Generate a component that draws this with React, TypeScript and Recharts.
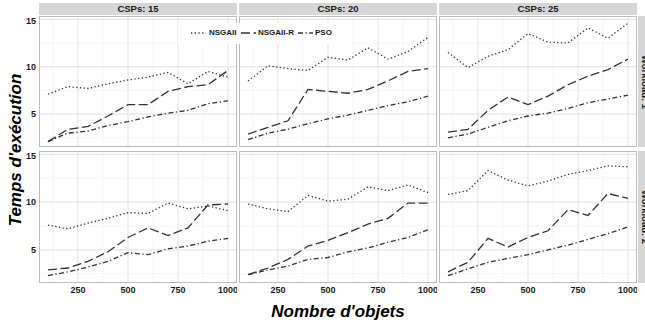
import { CartesianGrid, Line, LineChart, XAxis, YAxis } from "recharts";

const objets = [100, 200, 300, 400, 500, 600, 700, 800, 900, 1000];
const cspLabels = ["CSPs: 15", "CSPs: 20", "CSPs: 25"];
const workloadLabels = ["Workload: 1", "Workload: 2"];
const xTicks = [250, 500, 750, 1000];
const yTicks = [5, 10, 15];
const xMinor = [125, 375, 625, 875];
const yMinor = [2.5, 7.5, 12.5];

// Workload 1
const nsga_w1_15 = [7.1, 7.9, 7.7, 8.2, 8.6, 8.9, 9.4, 8.2, 9.5, 8.9];
const nsgar_w1_15 = [2.1, 3.4, 3.7, 4.8, 6.0, 6.0, 7.4, 7.9, 8.1, 9.6];
const pso_w1_15 = [2.1, 3.0, 3.2, 3.8, 4.2, 4.7, 5.1, 5.4, 6.1, 6.4];

const nsga_w1_20 = [8.5, 10.1, 9.8, 9.6, 11.0, 10.7, 12.0, 10.8, 11.6, 13.1];
const nsgar_w1_20 = [2.9, 3.6, 4.3, 7.6, 7.4, 7.2, 7.6, 8.5, 9.5, 9.8];
const pso_w1_20 = [2.3, 3.0, 3.4, 4.0, 4.5, 4.9, 5.4, 5.9, 6.3, 6.9];

const nsga_w1_25 = [11.5, 9.9, 11.1, 11.8, 13.5, 12.6, 12.5, 14.1, 13.0, 14.6];
const nsgar_w1_25 = [3.1, 3.4, 5.4, 6.8, 6.0, 6.9, 8.1, 9.0, 9.7, 10.8];
const pso_w1_25 = [2.5, 2.9, 3.6, 4.3, 4.8, 5.1, 5.6, 6.2, 6.6, 7.0];

// Workload 2
const nsga_w2_15 = [7.6, 7.2, 7.8, 8.3, 8.9, 8.8, 9.9, 9.3, 9.6, 9.1];
const nsgar_w2_15 = [2.9, 3.1, 3.8, 4.8, 6.3, 7.3, 6.5, 7.3, 9.7, 9.8];
const pso_w2_15 = [2.3, 2.7, 3.2, 3.8, 4.7, 4.5, 5.1, 5.4, 5.9, 6.2];

const nsga_w2_20 = [9.8, 9.3, 9.0, 10.7, 10.1, 10.3, 11.6, 11.2, 11.8, 11.0];
const nsgar_w2_20 = [2.4, 3.1, 4.0, 5.4, 6.0, 6.8, 7.7, 8.3, 9.9, 9.9];
const pso_w2_20 = [2.4, 2.9, 3.3, 4.0, 4.2, 4.8, 5.2, 5.8, 6.3, 7.1];

const nsga_w2_25 = [10.8, 11.2, 13.3, 12.3, 11.7, 12.2, 12.9, 13.3, 13.8, 13.7];
const nsgar_w2_25 = [2.7, 3.7, 6.2, 5.3, 6.3, 7.0, 9.2, 8.6, 10.9, 10.4];
const pso_w2_25 = [2.3, 3.0, 3.7, 4.1, 4.5, 5.0, 5.5, 6.1, 6.7, 7.4];

const series = [
  [
    [nsga_w1_15, nsgar_w1_15, pso_w1_15],
    [nsga_w1_20, nsgar_w1_20, pso_w1_20],
    [nsga_w1_25, nsgar_w1_25, pso_w1_25],
  ],
  [
    [nsga_w2_15, nsgar_w2_15, pso_w2_15],
    [nsga_w2_20, nsgar_w2_20, pso_w2_20],
    [nsga_w2_25, nsgar_w2_25, pso_w2_25],
  ],
];

const FONT = "'Liberation Sans', Arial, sans-serif";
const INK = "#333333";
const PL = [39, 239, 439];
const PT = [16, 151];
const PH = [131, 132];
const PW = 198;
const Y_AXIS_W = 39;
const X_AXIS_H = 20;

const lineStyles = [
  { key: "NSGAII", dash: "1.3 2.4" },
  { key: "NSGAII-R", dash: "9 3.5" },
  { key: "PSO", dash: "5 2.5 1.3 2.5" },
];

function Panel({ r, c }: { r: number; c: number }) {
  const left = c === 0;
  const bottom = r === 1;
  const [a, b, p] = series[r][c];
  const data = objets.map((x, i) => ({ x, NSGAII: a[i], "NSGAII-R": b[i], PSO: p[i] }));
  const tick = { fontSize: 9, fontWeight: 700, fill: "#1a1a1a", fontFamily: FONT };
  return (
    <div style={{ position: "absolute", left: left ? 0 : PL[c], top: PT[r] }}>
      <LineChart
        width={(left ? Y_AXIS_W : 0) + PW}
        height={PH[r] + (bottom ? X_AXIS_H : 0)}
        data={data}
        margin={{ top: 0, right: 0, bottom: 0, left: 0 }}
      >
        <CartesianGrid
          horizontalValues={yMinor}
          verticalValues={xMinor}
          stroke="#e4e4e4"
          strokeWidth={0.8}
          strokeDasharray="1 1.5"
        />
        <CartesianGrid horizontalValues={yTicks} verticalValues={xTicks} stroke="#e6e6e6" strokeWidth={1.2} />
        <XAxis
          type="number"
          dataKey="x"
          domain={[55, 1045]}
          ticks={xTicks}
          hide={!bottom}
          height={X_AXIS_H}
          axisLine={false}
          tickLine={false}
          tickSize={2}
          tickMargin={2}
          tick={tick}
          allowDataOverflow
        />
        <YAxis
          type="number"
          domain={[1.53, 15.35]}
          ticks={yTicks}
          hide={!left}
          width={Y_AXIS_W}
          axisLine={false}
          tickLine={false}
          tickSize={2}
          tickMargin={1}
          tick={tick}
          allowDataOverflow
        />
        {lineStyles.map((s) => (
          <Line
            key={s.key}
            dataKey={s.key}
            type="linear"
            stroke={INK}
            strokeWidth={1.3}
            strokeDasharray={s.dash}
            dot={false}
            activeDot={false}
            isAnimationActive={false}
          />
        ))}
      </LineChart>
    </div>
  );
}

function LegendBox() {
  const items = [
    { key: "NSGAII", dash: lineStyles[0].dash, kx: 191, tx: 209 },
    { key: "NSGAII-R", dash: lineStyles[1].dash, kx: 241, tx: 258 },
    { key: "PSO", dash: lineStyles[2].dash, kx: 298, tx: 315 },
  ];
  return (
    <div style={{ position: "absolute", left: 178, top: 23, width: 170, height: 21, background: "#fff" }}>
      {items.map((it) => (
        <div key={it.key}>
          <svg width={15} height={4} style={{ position: "absolute", left: it.kx - 178, top: 8 }}>
            <line x1={0} y1={2} x2={15} y2={2} stroke={INK} strokeWidth={1.3} strokeDasharray={it.dash} />
          </svg>
          <span
            style={{
              position: "absolute",
              left: it.tx - 178,
              top: 4,
              fontFamily: FONT,
              fontWeight: 700,
              fontSize: 8,
              lineHeight: "12px",
              color: "#1a1a1a",
              whiteSpace: "nowrap",
            }}
          >
            {it.key}
          </span>
        </div>
      ))}
    </div>
  );
}

export default function App() {
  return (
    <div
      style={{
        position: "absolute",
        left: 0,
        top: 0,
        width: 645,
        height: 323,
        overflow: "hidden",
        background: "#fff",
        fontFamily: FONT,
      }}
    >
      {[0, 1].map((r) => [0, 1, 2].map((c) => <Panel key={`${r}-${c}`} r={r} c={c} />))}
      {[0, 1].map((r) =>
        [0, 1, 2].map((c) => (
          <div
            key={`b${r}-${c}`}
            style={{
              position: "absolute",
              left: PL[c],
              top: PT[r],
              width: PW,
              height: PH[r],
              border: "1px solid #bdbdbd",
              boxSizing: "border-box",
              pointerEvents: "none",
            }}
          />
        ))
      )}
      {cspLabels.map((t, c) => (
        <div
          key={t}
          style={{
            position: "absolute",
            left: PL[c],
            top: 3,
            width: PW,
            height: 12,
            background: "#d6d6d6",
            textAlign: "center",
            fontSize: 9.5,
            fontWeight: 700,
            lineHeight: "12px",
            color: "#1a1a1a",
          }}
        >
          {t}
        </div>
      ))}
      {workloadLabels.map((t, r) => (
        <div
          key={t}
          style={{
            position: "absolute",
            left: 638,
            top: PT[r],
            width: 14,
            height: PH[r],
            background: "#d6d6d6",
          }}
        >
          <div
            style={{
              position: "absolute",
              left: 7,
              top: PH[r] / 2,
              transform: "translate(-50%, -50%) rotate(90deg)",
              fontSize: 9.5,
              fontWeight: 700,
              color: "#1a1a1a",
              whiteSpace: "nowrap",
              lineHeight: "12px",
            }}
          >
            {t}
          </div>
        </div>
      ))}
      <LegendBox />
      <div
        style={{
          position: "absolute",
          left: 16,
          top: 150,
          transform: "translate(-50%, -50%) rotate(-90deg)",
          fontSize: 17,
          fontWeight: 700,
          fontStyle: "italic",
          whiteSpace: "nowrap",
          color: "#000",
        }}
      >
        Temps d'exécution
      </div>
      <div
        style={{
          position: "absolute",
          left: 338,
          top: 312,
          transform: "translate(-50%, -50%)",
          fontSize: 17,
          fontWeight: 700,
          fontStyle: "italic",
          whiteSpace: "nowrap",
          color: "#000",
        }}
      >
        Nombre d'objets
      </div>
    </div>
  );
}
